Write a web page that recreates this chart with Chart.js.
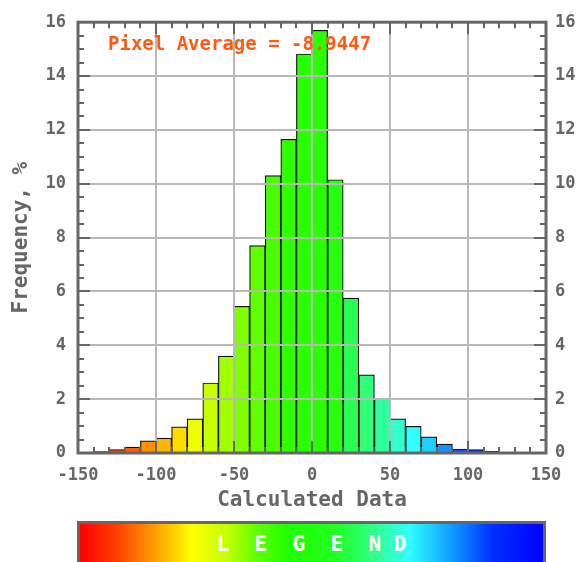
<!DOCTYPE html>
<html>
<head>
<meta charset="utf-8">
<script src="https://cdn.jsdelivr.net/npm/chart.js@4.4.0/dist/chart.umd.min.js"></script>
<style>
  html, body { margin: 0; padding: 0; background: #fff; overflow: hidden; }
  #wrap { position: relative; width: 582px; height: 562px; overflow: hidden; }
  #legend {
    position: absolute; left: 77px; top: 521px; width: 463px; height: 50px;
    border: 3px solid #666;
    background: linear-gradient(to right, #ff0000 0%, #ff4000 8%, #ff9000 15%, #ffd800 21%, #ffff00 24%,
      #c0ff00 32%, #60ff00 38%, #20ff00 45%, #20ff20 55%, #30ff90 64%, #30ffff 71%, #10a0ff 80%,
      #0030ff 89%, #0000ff 100%);
    color: #fff; font: bold 21px "DejaVu Sans Mono", monospace;
    text-align: center; white-space: pre; line-height: 40px;
  }
</style>
</head>
<body>
<div id="wrap">
  <canvas id="graph" width="582" height="562"></canvas>
  <div id="legend">L  E  G  E  N D</div>
</div>
<script>
const binCenters = [-135, -125, -115, -105, -95, -85, -75, -65, -55, -45, -35, -25, -15, -5,
  5, 15, 25, 35, 45, 55, 65, 75, 85, 95, 105, 115];
const frequency = [0.05, 0.13, 0.22, 0.45, 0.55, 0.97, 1.27, 2.6, 3.6, 5.45, 7.7, 10.3, 11.65, 14.82,
  15.7, 10.15, 5.75, 2.9, 2.0, 1.27, 0.99, 0.6, 0.33, 0.15, 0.13, 0.06];
const xTicks = [-150, -100, -50, 0, 50, 100, 150];
const yTicks = [0, 2, 4, 6, 8, 10, 12, 14, 16];
const pixelAverage = "-8.9447";

const binColors = ["#ff2000", "#ff4000", "#ff6000", "#ff9000", "#ffb400", "#ffdc00", "#f0ff00",
  "#c8ff00", "#a0ff00", "#80ff00", "#60ff00", "#48ff00", "#30ff00", "#28ff00", "#28ff00",
  "#28ff10", "#28ff50", "#30ff78", "#30ffa0", "#30ffd0", "#30ffff", "#20d0ff", "#1890ff",
  "#0850ff", "#0030ff", "#0010ff"];

const mono = '"DejaVu Sans Mono", monospace';
const tickFont = { family: mono, size: 17, weight: "bold" };
const titleFont = { family: mono, size: 21, weight: "bold" };

// frame, inward minor/major ticks and the average label
const frameTicks = {
  id: "frameTicks",
  afterDraw(chart) {
    const { ctx, chartArea: a, scales: { x, y } } = chart;
    ctx.save();
    ctx.strokeStyle = "#666";
    ctx.lineWidth = 2;
    ctx.beginPath();
    for (let v = x.min; v <= x.max; v += 10) {
      const px = Math.round(x.getPixelForValue(v));
      const len = v % 50 === 0 ? 12 : 6;
      ctx.moveTo(px, a.bottom); ctx.lineTo(px, a.bottom - len);
      ctx.moveTo(px, a.top); ctx.lineTo(px, a.top + len);
    }
    for (let v = y.min; v <= y.max; v += 0.5) {
      const py = Math.round(y.getPixelForValue(v));
      const len = v % 2 === 0 ? 12 : 6;
      ctx.moveTo(a.left, py); ctx.lineTo(a.left + len, py);
      ctx.moveTo(a.right, py); ctx.lineTo(a.right - len, py);
    }
    ctx.stroke();
    ctx.lineWidth = 3;
    ctx.strokeRect(a.left, a.top, a.right - a.left, a.bottom - a.top);

    ctx.fillStyle = "#ff5a10";
    ctx.font = "bold 19px " + mono;
    ctx.textBaseline = "middle";
    ctx.textAlign = "left";
    ctx.fillText("Pixel Average = " + pixelAverage, a.left + 30, a.top + 23);
    ctx.restore();
  }
};

new Chart(document.getElementById("graph"), {
  type: "bar",
  data: {
    datasets: [{
      data: binCenters.map((c, i) => ({ x: c, y: frequency[i] })),
      backgroundColor: binColors,
      borderColor: "#111",
      borderWidth: 1.2,
      barPercentage: 1,
      categoryPercentage: 1
    }]
  },
  options: {
    responsive: false,
    animation: false,
    devicePixelRatio: 1,
    layout: { padding: { top: 16, bottom: 47, left: 0, right: 0 } },
    plugins: { legend: { display: false }, tooltip: { enabled: false } },
    scales: {
      x: {
        type: "linear", min: -150, max: 150, offset: false,
        afterBuildTicks: s => { s.ticks = xTicks.map(v => ({ value: v })); },
        grid: { color: "#b8b8b8", lineWidth: 2, drawTicks: false, offset: false, z: 1 },
        border: { display: false },
        ticks: { padding: 12, color: "#666", font: tickFont, maxRotation: 0, autoSkip: false },
        title: { display: true, text: "Calculated Data", color: "#666", font: titleFont, padding: { top: 0, bottom: 2 } },
        afterFit: s => { s.height = 62; }
      },
      y: {
        position: "left", min: 0, max: 16,
        afterBuildTicks: s => { s.ticks = yTicks.map(v => ({ value: v })); },
        grid: { color: "#b8b8b8", lineWidth: 2, drawTicks: false, z: 1 },
        border: { display: false },
        ticks: { padding: 12, color: "#666", font: tickFont },
        title: { display: true, text: "Frequency, %", color: "#666", font: titleFont, padding: { top: 9, bottom: 0 } },
        afterFit: s => { s.width = 78; }
      },
      y2: {
        position: "right", min: 0, max: 16,
        afterBuildTicks: s => { s.ticks = yTicks.map(v => ({ value: v })); },
        grid: { display: false, drawTicks: false },
        border: { display: false },
        ticks: { padding: 9, color: "#666", font: tickFont },
        afterFit: s => { s.width = 36; }
      }
    }
  },
  plugins: [frameTicks]
});
</script>
</body>
</html>
